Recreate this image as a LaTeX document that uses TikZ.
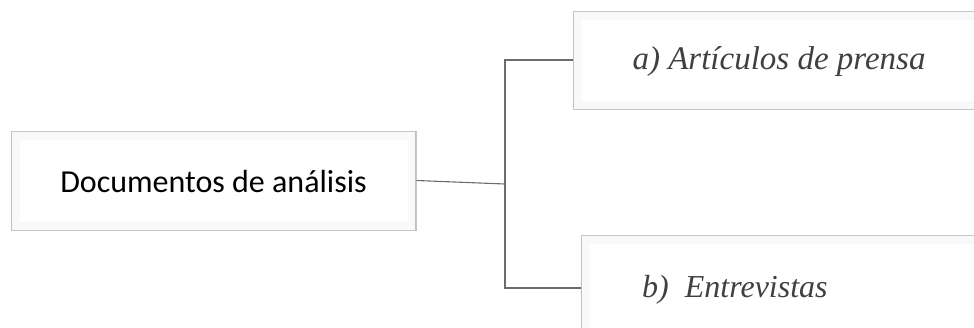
\documentclass[tikz,border=0pt]{standalone}
\usepackage{fontspec}
\setmainfont{Liberation Serif}
\newfontfamily\boxsans{Carlito}
\begin{document}
\begin{tikzpicture}[x=1pt,y=-1pt,
  bevelbox/.style={draw=gray!45, line width=1pt, fill=white, inner sep=0pt},
  link/.style={draw=gray!85!black, line width=1.1pt},
  lbl/.style={inner sep=0pt, text=black!75}]
  \useasboundingbox (0,0) rectangle (974,327);
  \clip (0,0) rectangle (974,327);
  % boxes
  \node[bevelbox, minimum width=405, minimum height=99] (src) at (213.5,180.5) {};
  \node[bevelbox, minimum width=412, minimum height=98] (art) at (779,60) {};
  \node[bevelbox, minimum width=410, minimum height=106] (ent) at (786,288) {};
  % soft inner bevel on every box
  \foreach \b in {src,art,ent}{
    \draw[gray!5, line width=8pt] ([shift={(5,5)}]\b.north west) rectangle ([shift={(-5,-5)}]\b.south east);
    \draw[gray!50, line width=1.4pt] ([shift={(1.2,1)}]\b.north west) -- ([shift={(1.2,-1)}]\b.south west);
    \draw[gray!50, line width=1.4pt] ([shift={(-1.2,1)}]\b.north east) -- ([shift={(-1.2,-1)}]\b.south east);
  }
  % labels
  \node[inner sep=0pt, font=\boxsans\fontsize{32}{36}\selectfont] (srct) at (213.5,182) {Documentos de análisis};
  \node[lbl, font=\itshape\fontsize{33}{38}\selectfont] (artt) at (779,62) {a) Artículos de prensa};
  \node[lbl, anchor=west, font=\itshape\fontsize{32}{38}\selectfont] (entt) at (642,290) {b)\ \ Entrevistas};
  % connectors
  \coordinate (j) at (505,184);
  \draw[link] (src.east) -- (j);
  \draw[link] (art.west) -| (j) |- (ent.west);
\end{tikzpicture}
\end{document}
